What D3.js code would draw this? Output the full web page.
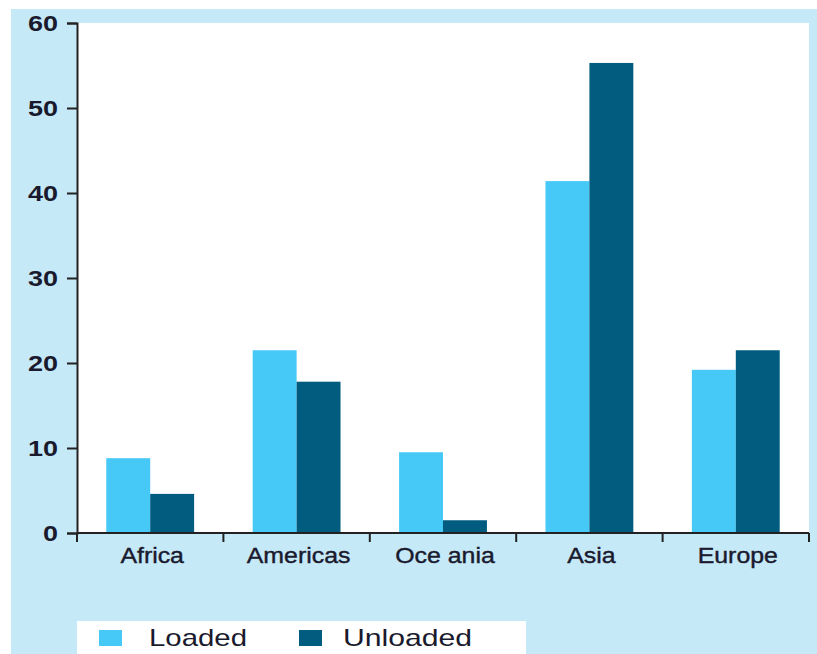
<!DOCTYPE html>
<meta charset="utf-8">
<script src="https://d3js.org/d3.v7.min.js"></script>
<style>
  body { margin: 0; background: #fff; }
  svg text { font-family: "Liberation Sans", Arial, sans-serif; fill: #1a1a2e; }
</style>
<body>
<div id="chart"></div>
<script>
  // regions and shares (%)
  var regions = ["Africa", "Americas", "Oceania", "Asia", "Europe"];
  var regionLabels = ["Africa", "Americas", "Oce ania", "Asia", "Europe"];
  var loaded = [8.8, 21.5, 9.5, 41.4, 19.2];
  var unloaded = [4.6, 17.8, 1.5, 55.3, 21.5];
  var seriesNames = ["Loaded", "Unloaded"];
  var yTicks = [0, 10, 20, 30, 40, 50, 60];

  var colours = ["#46C9F6", "#025C80"];
  var W = 817, H = 654;
  var plot = {left: 77, right: 809, top: 23, bottom: 533};

  var svg = d3.select("#chart").append("svg")
      .attr("width", W)
      .attr("height", H);

  // panel background
  svg.append("rect").attr("x", 11).attr("y", 9)
      .attr("width", W - 11).attr("height", H - 9)
      .attr("fill", "#C6E9F8");
  svg.append("rect").attr("x", plot.left).attr("y", plot.top)
      .attr("width", plot.right - plot.left).attr("height", plot.bottom - plot.top)
      .attr("fill", "#fff");

  var x0 = d3.scaleBand().domain(regions).range([plot.left, plot.right]);
  var x1 = d3.scaleBand().domain(seriesNames)
      .range([x0.bandwidth() * 0.2, x0.bandwidth() * 0.8]);
  var y = d3.scaleLinear().domain([0, 60]).range([plot.bottom, plot.top]);

  var rows = regions.map(function(r, i) {
      return {region: r, values: [loaded[i], unloaded[i]]};
  });

  svg.append("g").selectAll("g")
      .data(rows)
      .join("g")
        .attr("transform", d => "translate(" + x0(d.region) + ",0)")
      .selectAll("rect")
      .data(d => d.values.map((v, j) => ({name: seriesNames[j], value: v, j: j})))
      .join("rect")
        .attr("x", d => x1(d.name))
        .attr("width", x1.bandwidth())
        .attr("y", d => y(d.value))
        .attr("height", d => y(0) - y(d.value))
        .attr("fill", d => colours[d.j]);

  // y axis
  var yAxis = svg.append("g")
      .attr("transform", "translate(" + plot.left + ",0)")
      .call(d3.axisLeft(y).tickValues(yTicks).tickSize(10).tickPadding(9));
  yAxis.select(".domain").attr("stroke", "#222").attr("stroke-width", 2);
  yAxis.selectAll(".tick line").attr("stroke", "#222").attr("stroke-width", 2);
  yAxis.selectAll(".tick text")
      .attr("font-size", 22)
      .attr("font-weight", "bold")
      .attr("fill", "#2a2a3e")
      .attr("textLength", d => String(d).length * 15)
      .attr("lengthAdjust", "spacingAndGlyphs");

  // x axis with ticks between categories
  var xAxis = svg.append("g")
      .attr("transform", "translate(0," + plot.bottom + ")");
  xAxis.append("line")
      .attr("x1", plot.left).attr("x2", plot.right)
      .attr("stroke", "#222").attr("stroke-width", 2);
  var edges = regions.map(r => x0(r)).concat([plot.right]);
  xAxis.selectAll(".sep")
      .data(edges)
      .join("line")
        .attr("class", "sep")
        .attr("x1", d => d).attr("x2", d => d)
        .attr("y1", 0).attr("y2", 9)
        .attr("stroke", "#222").attr("stroke-width", 2);
  xAxis.selectAll(".lab")
      .data(regions)
      .join("text")
        .attr("class", "lab")
        .attr("x", d => x0(d) + x0.bandwidth() / 2 + 2)
        .attr("y", 30)
        .attr("text-anchor", "middle")
        .attr("font-size", 22)
        .attr("stroke", "#1a1a2e")
        .attr("stroke-width", 0.4)
        .text((d, i) => regionLabels[i])
        .each(function() {
            // the labels in the picture are drawn slightly wide
            var w = this.getComputedTextLength();
            d3.select(this).attr("textLength", w * 1.13).attr("lengthAdjust", "spacingAndGlyphs");
        });

  // legend
  var legend = svg.append("g");
  legend.append("rect")
      .attr("x", 77).attr("y", 621)
      .attr("width", 449).attr("height", H - 621)
      .attr("fill", "#fff");
  var legendX = [99, 299];
  var item = legend.selectAll(".item")
      .data(seriesNames)
      .join("g")
        .attr("class", "item")
        .attr("transform", (d, i) => "translate(" + legendX[i] + ",630)");
  item.append("rect")
      .attr("width", 23).attr("height", 16)
      .attr("fill", (d, i) => colours[i]);
  item.append("text")
      .attr("x", (d, i) => i === 0 ? 50 : 44)
      .attr("y", 16)
      .attr("font-size", 24)
      .attr("textLength", (d, i) => i === 0 ? 98 : 129)
      .attr("lengthAdjust", "spacingAndGlyphs")
      .text(d => d);
</script>
</body>
